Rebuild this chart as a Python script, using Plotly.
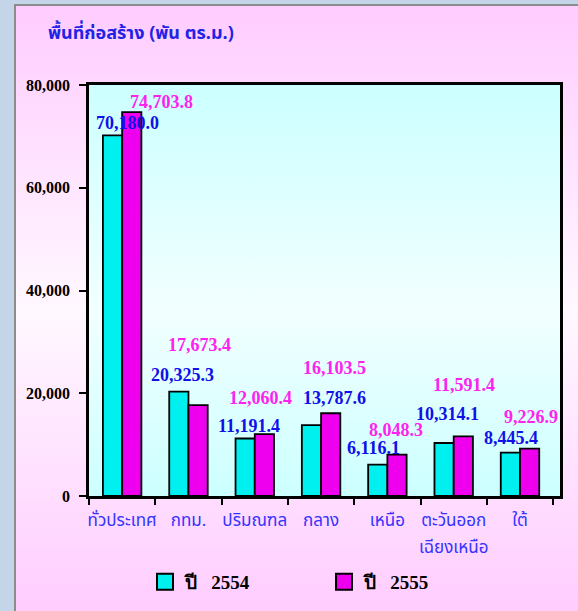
import base64
import plotly.graph_objects as go

# ภูมิภาค
regions = ["ทั่วประเทศ", "กทม.", "ปริมณฑล", "กลาง", "เหนือ", "ตะวันออกเฉียงเหนือ", "ใต้"]
tick_line1 = ["ทั่วประเทศ", "กทม.", "ปริมณฑล", "กลาง", "เหนือ", "ตะวันออก", "ใต้"]
tick_line2 = ["", "", "", "", "", "เฉียงเหนือ", ""]
area_2554 = [70180.0, 20325.3, 11191.4, 13787.6, 6116.1, 10314.1, 8445.4]
area_2555 = [74703.8, 17673.4, 12060.4, 16103.5, 8048.3, 11591.4, 9226.9]
labels_2554 = ["70,180.0", "20,325.3", "11,191.4", "13,787.6", "6,116.1", "10,314.1", "8,445.4"]
labels_2555 = ["74,703.8", "17,673.4", "12,060.4", "16,103.5", "8,048.3", "11,591.4", "9,226.9"]

# ตำแหน่งป้ายค่า (เลื่อนเป็นพิกเซลจากยอดแท่ง)
shift_2554 = [(5, 12), (-6, 17), (-6, 13), (13, 27), (-14, 17), (-6, 29), (-9, 15)]
shift_2555 = [(39, 10), (11, 60), (6, 36), (13, 45), (9, 25), (10, 51), (11, 32)]

W, H = 578, 611
L, R, T, B = 89, 18, 85, 115
pw, ph = W - L - R, H - T - B

# พื้นหลังไล่สี
svg = f"""<svg xmlns='http://www.w3.org/2000/svg' width='{W}' height='{H}'>
<defs>
<linearGradient id='p' x1='0' y1='0' x2='0' y2='1'>
<stop offset='0' stop-color='#FFCCFF'/><stop offset='0.5' stop-color='#FFF8FF'/><stop offset='1' stop-color='#FFCCFF'/>
</linearGradient>
<linearGradient id='c' x1='0' y1='0' x2='0' y2='1'>
<stop offset='0' stop-color='#CCFFFF'/><stop offset='0.55' stop-color='#F2FFFF'/><stop offset='1' stop-color='#CCFFFF'/>
</linearGradient>
</defs>
<rect width='{W}' height='{H}' fill='#C4D5EA'/>
<rect x='15' y='5' width='{W}' height='{H}' fill='url(#p)' stroke='#8C8C8C' stroke-width='2'/>
<rect x='{L}' y='{T}' width='{pw}' height='{ph}' fill='url(#c)'/>
</svg>"""
bg = "data:image/svg+xml;base64," + base64.b64encode(svg.encode()).decode()

serif = "Liberation Serif, Times New Roman, serif"
thai = "Tahoma, Noto Sans Thai, Garuda, Loma, sans-serif"

fig = go.Figure()
fig.add_trace(go.Bar(x=regions, y=area_2554, name="2554", showlegend=False,
                     marker=dict(color="#00F0F0", line=dict(color="black", width=1.8))))
fig.add_trace(go.Bar(x=regions, y=area_2555, name="2555", showlegend=False,
                     marker=dict(color="#EE00EE", line=dict(color="black", width=1.8))))

# legend
for nm, col in [("ปี\u00a0\u00a0\u00a02554", "#00F0F0"), ("ปี\u00a0\u00a0\u00a02555", "#EE00EE")]:
    fig.add_trace(go.Scatter(x=[None], y=[None], mode="markers", name=nm,
                             marker=dict(symbol="square", size=16, color=col,
                                         line=dict(color="black", width=2))))

annotations = []
for reg, v, t, (dx, dy) in zip(regions, area_2554, labels_2554, shift_2554):
    annotations.append(dict(x=reg, y=v, text=t, showarrow=False, xshift=dx, yshift=dy,
                            yanchor="middle", font=dict(family=serif, size=18, color="#1010E8", weight="bold")))
for reg, v, t, (dx, dy) in zip(regions, area_2555, labels_2555, shift_2555):
    annotations.append(dict(x=reg, y=v, text=t, showarrow=False, xshift=dx, yshift=dy,
                            yanchor="middle", font=dict(family=serif, size=18, color="#FF22EE", weight="bold")))
# บรรทัดที่สองของชื่อภูมิภาค
for reg, t in zip(regions, tick_line2):
    if t:
        annotations.append(dict(x=reg, y=0, yref="paper", text=t, showarrow=False, yshift=-52,
                                yanchor="middle", font=dict(family=thai, size=17, color="#3333FF")))

fig.update_layout(
    width=W, height=H,
    margin=dict(l=L, r=R, t=T, b=B, autoexpand=False),
    paper_bgcolor="#C4D5EA",
    plot_bgcolor="rgba(0,0,0,0)",
    barmode="group", bargap=0.42, bargroupgap=0,
    title=dict(text="<b>พื้นที่ก่อสร้าง (พัน ตร.ม.)</b>", xref="container", yref="container",
               x=48 / W, xanchor="left", y=1 - 33 / H, yanchor="middle", automargin=False,
               font=dict(family=thai, size=18, color="#2222E6")),
    xaxis=dict(type="category", showline=True, linecolor="black", linewidth=2.5, mirror=True,
               ticks="outside", tickson="boundaries", ticklen=6, tickwidth=2, tickcolor="black",
               tickangle=0, automargin=False, ticklabelstandoff=7,
               tickvals=regions, ticktext=tick_line1,
               tickfont=dict(family=thai, size=17, color="#3333FF"), showgrid=False),
    yaxis=dict(range=[0, 80000], dtick=20000, tickformat=",", showline=True, linecolor="black",
               linewidth=2.5, mirror=True, ticks="outside", ticklen=7, tickwidth=2, tickcolor="black",
               ticklabelstandoff=6, showgrid=False, zeroline=False, automargin=False,
               tickfont=dict(family=serif, size=16, color="black", weight="bold")),
    legend=dict(orientation="h", x=(145 - L) / pw, y=(T + ph - 563) / ph, xanchor="left", yanchor="top",
                entrywidth=134, entrywidthmode="pixels", bgcolor="rgba(0,0,0,0)",
                font=dict(family=serif, size=19, color="black", weight="bold")),
    annotations=annotations,
    images=[dict(source=bg, xref="paper", yref="paper", x=-L / pw, y=1 + T / ph,
                 sizex=W / pw, sizey=H / ph, xanchor="left", yanchor="top",
                 sizing="stretch", layer="below")],
)

fig.write_html("out.html", config={"displayModeBar": False},
               post_script="document.body.style.margin='0';")
